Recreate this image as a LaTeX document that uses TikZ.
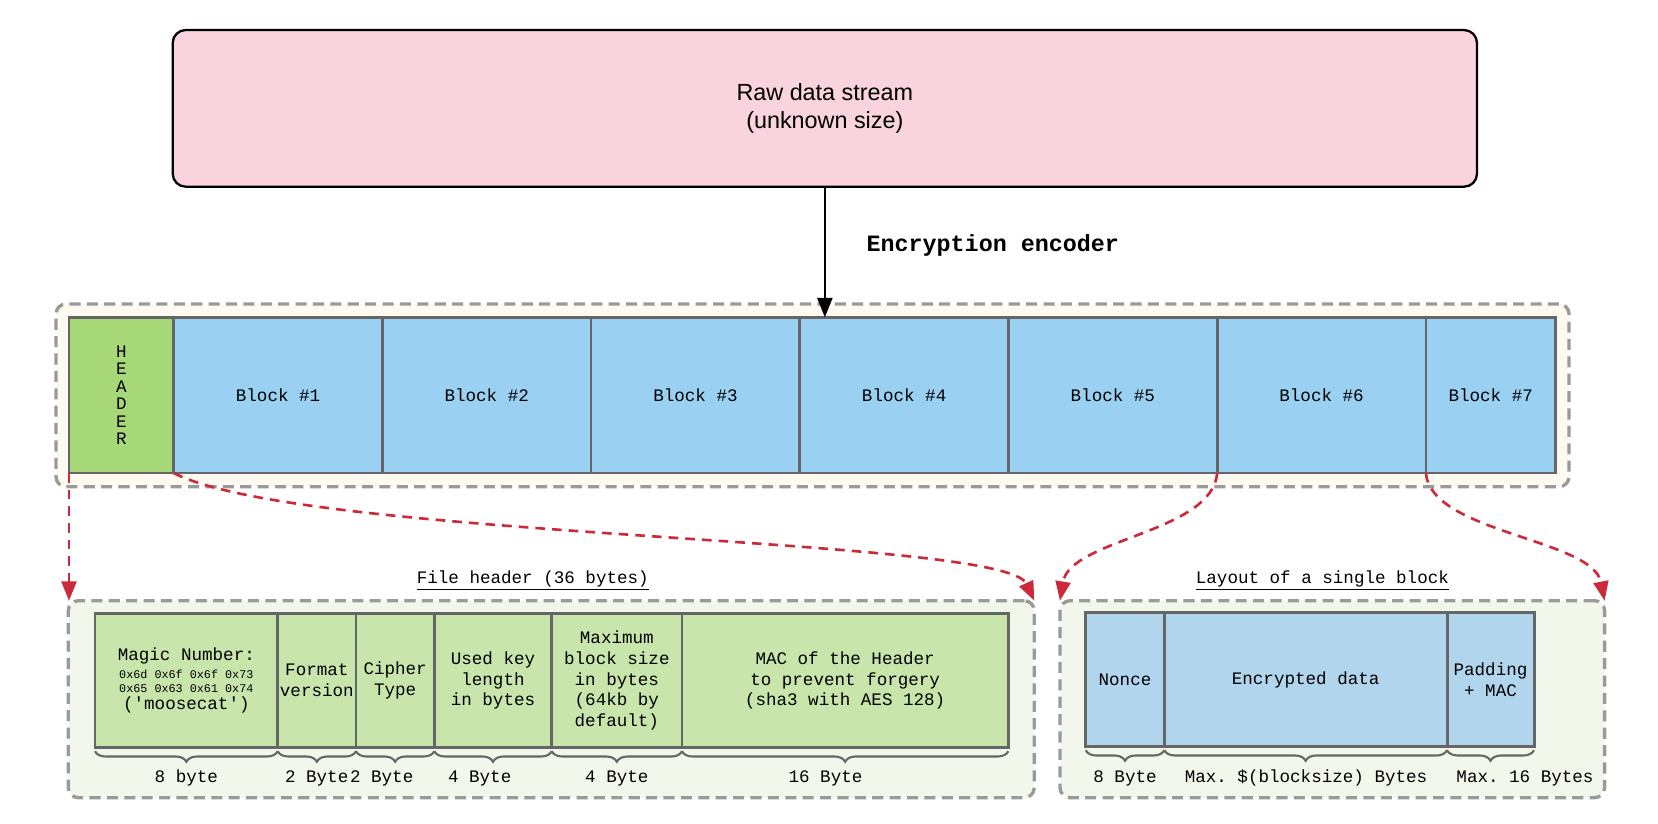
\documentclass[tikz,border=0pt]{standalone}
\usepackage{fontspec}
\setmainfont{Liberation Sans}
\setmonofont{Liberation Mono}
\usepackage{tikz}
\usetikzlibrary{
  arrows.meta,               % 箭头样式
  decorations.pathreplacing, % 大括号装饰
  positioning                % 节点相对定位
}
\definecolor{rawpink}{HTML}{F9D3DE}
\definecolor{blockblue}{HTML}{9AD0F1}
\definecolor{headgreen}{HTML}{A6D878}
\definecolor{fieldgreen}{HTML}{C8E6AC}
\definecolor{fieldblue}{HTML}{B2D5EE}
\definecolor{creambg}{HTML}{FFFAF1}
\definecolor{greenbg}{HTML}{F2F7EC}
\definecolor{framegray}{HTML}{9A9A9A}
\definecolor{cellgray}{HTML}{666666}
\definecolor{arrowred}{HTML}{CC2A3A}
\newdimen\pxu
\pxu=0.02cm
\tikzset{
  raw box/.style={
    draw=black,
    line width=1.3pt,
    fill=rawpink,
    rounded corners=7.4pt,
    inner sep=0pt, outer sep=0pt,
    align=center,
    font=\fontsize{13.3}{16.2}\selectfont
  },
  frame box/.style={
    draw=framegray,
    line width=1.9pt,
    dash pattern=on 6.3pt off 3.6pt,
    rounded corners=5.7pt,
    inner sep=0pt, outer sep=0pt
  },
  cell/.style={
    draw=cellgray,
    line width=1.5pt,
    inner sep=0pt, outer sep=0pt,
    align=center,
    font=\ttfamily\fontsize{10}{11.8}\selectfont
  },
  head cell/.style={cell, fill=headgreen, minimum width=104.7*\pxu,
    minimum height=155.7*\pxu, font=\ttfamily\fontsize{10}{9.9}\selectfont},
  block cell/.style={cell, fill=blockblue, minimum width=#1*\pxu,
    minimum height=155.7*\pxu},
  file cell/.style={cell, fill=fieldgreen, line width=1.7pt,
    minimum width=#1*\pxu, minimum height=134.4*\pxu},
  part cell/.style={cell, fill=fieldblue, line width=1.7pt,
    minimum width=#1*\pxu, minimum height=134.4*\pxu},
  size brace/.style={
    draw=cellgray,
    line width=1.2pt,
    decorate,
    decoration={brace, mirror, amplitude=6pt, raise=2pt}
  },
  size label/.style={anchor=base, font=\ttfamily\fontsize{10}{12}\selectfont},
  title label/.style={anchor=base, font=\ttfamily\fontsize{10}{12}\selectfont},
  data arrow/.style={
    -{Triangle[length=11pt, width=8.5pt]},
    draw=arrowred,
    line width=1.5pt,
    dash pattern=on 5.5pt off 4pt
  },
  flow arrow/.style={
    -{Triangle[length=11pt, width=8.5pt]},
    line width=1.3pt
  }
}
\newcommand{\hexline}[1]{{\fontsize{6.7}{8}\selectfont #1}}

\begin{document}
\begin{tikzpicture}[x=0.02cm, y=-0.02cm]
    \useasboundingbox (0,0) rectangle (1658,823);

    % 原始数据流
    \node[raw box, minimum width=1304.3*\pxu, minimum height=156.7*\pxu, anchor=north west]
      (raw) at (172.7,30) {Raw data stream\\(unknown size)};

    % 虚线外框（底色）
    \node[frame box, fill=creambg, minimum width=1513*\pxu, minimum height=182.7*\pxu,
      anchor=north west] (streambox) at (56,304) {};
    \node[frame box, fill=greenbg, minimum width=966*\pxu, minimum height=197*\pxu,
      anchor=north west] (filebox) at (68.3,600.7) {};
    \node[frame box, fill=greenbg, minimum width=544.6*\pxu, minimum height=197*\pxu,
      anchor=north west] (blkbox) at (1060,600.7) {};

    % 加密后的数据流：头 + 7 个块
    \node[head cell, anchor=north west] (hdr) at (69,317.3) {H\\E\\A\\D\\E\\R};
    \node[block cell=208.7, right=0pt of hdr] (b1) {Block \#1};
    \node[block cell=208.7, right=0pt of b1] (b2) {Block \#2};
    \node[block cell=208.7, right=0pt of b2] (b3) {Block \#3};
    \node[block cell=208.7, right=0pt of b3] (b4) {Block \#4};
    \node[block cell=208.7, right=0pt of b4] (b5) {Block \#5};
    \node[block cell=208.7, right=0pt of b5] (b6) {Block \#6};
    \node[block cell=129.6, right=0pt of b6] (b7) {Block \#7};

    % 编码箭头
    \draw[flow arrow] (raw.south) -- (raw.south |- b4.north);
    \node[anchor=base, font=\ttfamily\bfseries\fontsize{13.3}{16}\selectfont]
      (enc) at (992.8,251.7) {Encryption encoder};

    % 文件头的各字段
    \node[title label] (filetitle) at (532.8,583.3) {\underline{File header (36 bytes)}};
    \node[file cell=182.7, anchor=north west] (mag) at (95,613.3)
      {Magic Number:\\[-1.8pt]\hexline{0x6d 0x6f 0x6f 0x73}\\[-3.8pt]\hexline{0x65 0x63 0x61 0x74}\\[-2.3pt]('moosecat')};
    \node[file cell=78.3, right=0pt of mag] (fmt) {Format\\version};
    \node[file cell=78.3, right=0pt of fmt] (cip) {Cipher\\Type};
    \node[file cell=117.4, right=0pt of cip] (key) {Used key\\length\\in bytes};
    \node[file cell=130.3, right=0pt of key] (bsz) {Maximum\\block size\\in bytes\\(64kb by\\default)};
    \node[file cell=326.3, right=0pt of bsz] (mac) {MAC of the Header\\to prevent forgery\\(sha3 with AES 128)};

    % 字段长度
    \draw[size brace] (mag.south west) -- (mag.south east);
    \draw[size brace] (fmt.south west) -- (fmt.south east);
    \draw[size brace] (cip.south west) -- (cip.south east);
    \draw[size brace] (key.south west) -- (key.south east);
    \draw[size brace] (bsz.south west) -- (bsz.south east);
    \draw[size brace] (mac.south west) -- (mac.south east);
    \node[size label] (lmag) at (186.3,782.7) {8 byte};
    \node[size label] (lfmt) at (316.7,782.7) {2 Byte};
    \node[size label] (lcip) at (381.7,782.7) {2 Byte};
    \node[size label] (lkey) at (479.7,782.7) {4 Byte};
    \node[size label] (lbsz) at (616.8,782.7) {4 Byte};
    \node[size label] (lmac) at (825.5,782.7) {16 Byte};

    % 单个块的布局
    \node[title label] (blktitle) at (1322.4,583.3) {\underline{Layout of a single block}};
    \node[part cell=78.6, anchor=north west] (non) at (1085.7,612.3) {Nonce};
    \node[part cell=282.7, right=0pt of non] (dat) {Encrypted data};
    \node[part cell=87, right=0pt of dat] (pad) {Padding\\+ MAC};
    \draw[size brace] (non.south west) -- (non.south east);
    \draw[size brace] (dat.south west) -- (dat.south east);
    \draw[size brace] (pad.south west) -- (pad.south east);
    \node[size label] (lnon) at (1125,782.7) {8 Byte};
    \node[size label] (ldat) at (1306,782.7) {Max. \$(blocksize) Bytes};
    \node[size label] (lpad) at (1525,782.7) {Max. 16 Bytes};

    % 展开箭头（红色虚线）
    \draw[data arrow] (hdr.south west) -- (hdr.south west |- filebox.north);
    \draw[data arrow] (hdr.south east) .. controls +(130,67) and +(-30,-65) .. (filebox.north east);
    \draw[data arrow] (b6.south west) .. controls +(-5,60) and +(10,-62) .. (blkbox.north west);
    \draw[data arrow] (b7.south west) .. controls +(5,60) and +(-12,-62) .. (blkbox.north east);

  \end{tikzpicture}
\end{document}
